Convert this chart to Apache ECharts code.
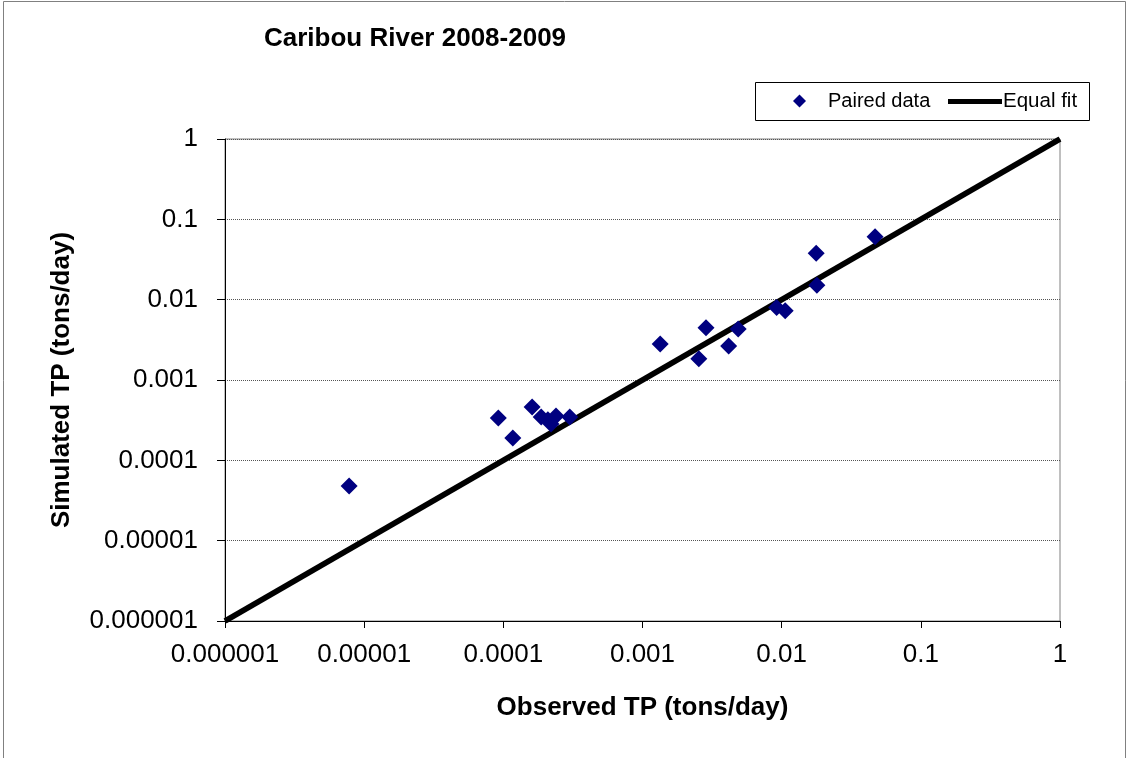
<!DOCTYPE html>
<html><head><meta charset="utf-8">
<script src="https://cdn.jsdelivr.net/npm/echarts@6/dist/echarts.min.js"></script>
<style>html,body{margin:0;padding:0;background:#fff}#c{width:1129px;height:758px}</style>
</head><body><div id="c"></div>
<script>
const observedTP = [7.8e-6, 9.2e-5, 1.17e-4, 1.61e-4, 1.87e-4, 2.09e-4, 2.2e-4, 2.39e-4, 3.0e-4,
  1.34e-3, 2.86e-3, 2.54e-3, 4.16e-3, 4.87e-3, 9.2e-3, 1.06e-2, 1.77e-2, 1.79e-2, 4.69e-2];
const simulatedTP = [4.8e-5, 3.36e-4, 1.9e-4, 4.6e-4, 3.46e-4, 3.2e-4, 2.83e-4, 3.56e-4, 3.46e-4,
  2.8e-3, 4.48e-3, 1.84e-3, 2.65e-3, 4.31e-3, 8.0e-3, 7.3e-3, 3.78e-2, 1.51e-2, 6.08e-2];
const equalFitX = [0.000001, 1];
const equalFitY = [0.000001, 1];
const tickLabels = ['0.000001','0.00001','0.0001','0.001','0.01','0.1','1'];

function fmt(v){
  const e = Math.round(Math.log10(v));
  return tickLabels[e + 6];
}
const font = 'Liberation Sans, Arial, sans-serif';
const chart = echarts.init(document.getElementById('c'));
chart.setOption({
  animation:false,
  backgroundColor:'#fff',
  title:{text:'Caribou River 2008-2009', left:264, top:26, padding:0,
    textStyle:{fontFamily:font, fontSize:26, fontWeight:'bold', color:'#000'}},
  legend:[
    {left:793, top:91, padding:0, itemWidth:13, itemHeight:13,
      textStyle:{fontFamily:font, fontSize:20, color:'#000', padding:[0,0,0,17]},
      data:[{name:'Paired data', icon:'diamond'}]},
    {left:948, top:91, padding:0, itemWidth:54, itemHeight:5,
      textStyle:{fontFamily:font, fontSize:20.5, color:'#000', padding:[0,0,0,-4]},
      data:[{name:'Equal fit', icon:'rect'}]}
  ],
  grid:{left:225, right:69, top:139, bottom:137, show:true, borderColor:'#808080', borderWidth:1},
  xAxis:{type:'log', logBase:10, min:0.000001, max:1,
    name:'Observed TP (tons/day)', nameLocation:'middle', nameGap:74,
    nameTextStyle:{fontFamily:font, fontSize:26, fontWeight:'bold', color:'#000'},
    axisLine:{lineStyle:{color:'#000', width:1}},
    axisTick:{show:true, length:7, lineStyle:{color:'#000'}},
    minorTick:{show:false},
    axisLabel:{formatter:fmt, fontFamily:font, fontSize:26, color:'#000', margin:21},
    splitLine:{show:false}},
  yAxis:{type:'log', logBase:10, min:0.000001, max:1,
    name:'Simulated TP (tons/day)', nameLocation:'middle', nameGap:150,
    nameTextStyle:{fontFamily:font, fontSize:26, fontWeight:'bold', color:'#000'},
    axisLine:{lineStyle:{color:'#000', width:1}},
    axisTick:{show:true, length:8, lineStyle:{color:'#000'}},
    axisLabel:{formatter:fmt, fontFamily:font, fontSize:26, color:'#000', margin:27},
    splitLine:{show:true, lineStyle:{color:'#555', type:'dotted', width:1}}},
  series:[
    {name:'Equal fit', type:'line', data:equalFitX.map((x,i)=>[x,equalFitY[i]]),
      symbol:'none', lineStyle:{color:'#000', width:5.5}, itemStyle:{color:'#000'}, z:2},
    {name:'Paired data', type:'scatter', symbol:'diamond', symbolSize:17,
      data:observedTP.map((x,i)=>[x,simulatedTP[i]]),
      itemStyle:{color:'#000080', opacity:1}, z:3}
  ],
  graphic:[
    {type:'rect', shape:{x:3.5,y:1.5,width:1122,height:760}, style:{fill:null, stroke:'#808080', lineWidth:1}, silent:true},
    {type:'rect', shape:{x:755.5,y:82.5,width:334,height:38}, style:{fill:null, stroke:'#000', lineWidth:1}, silent:true, z:-1}
  ]
});
</script></body></html>
